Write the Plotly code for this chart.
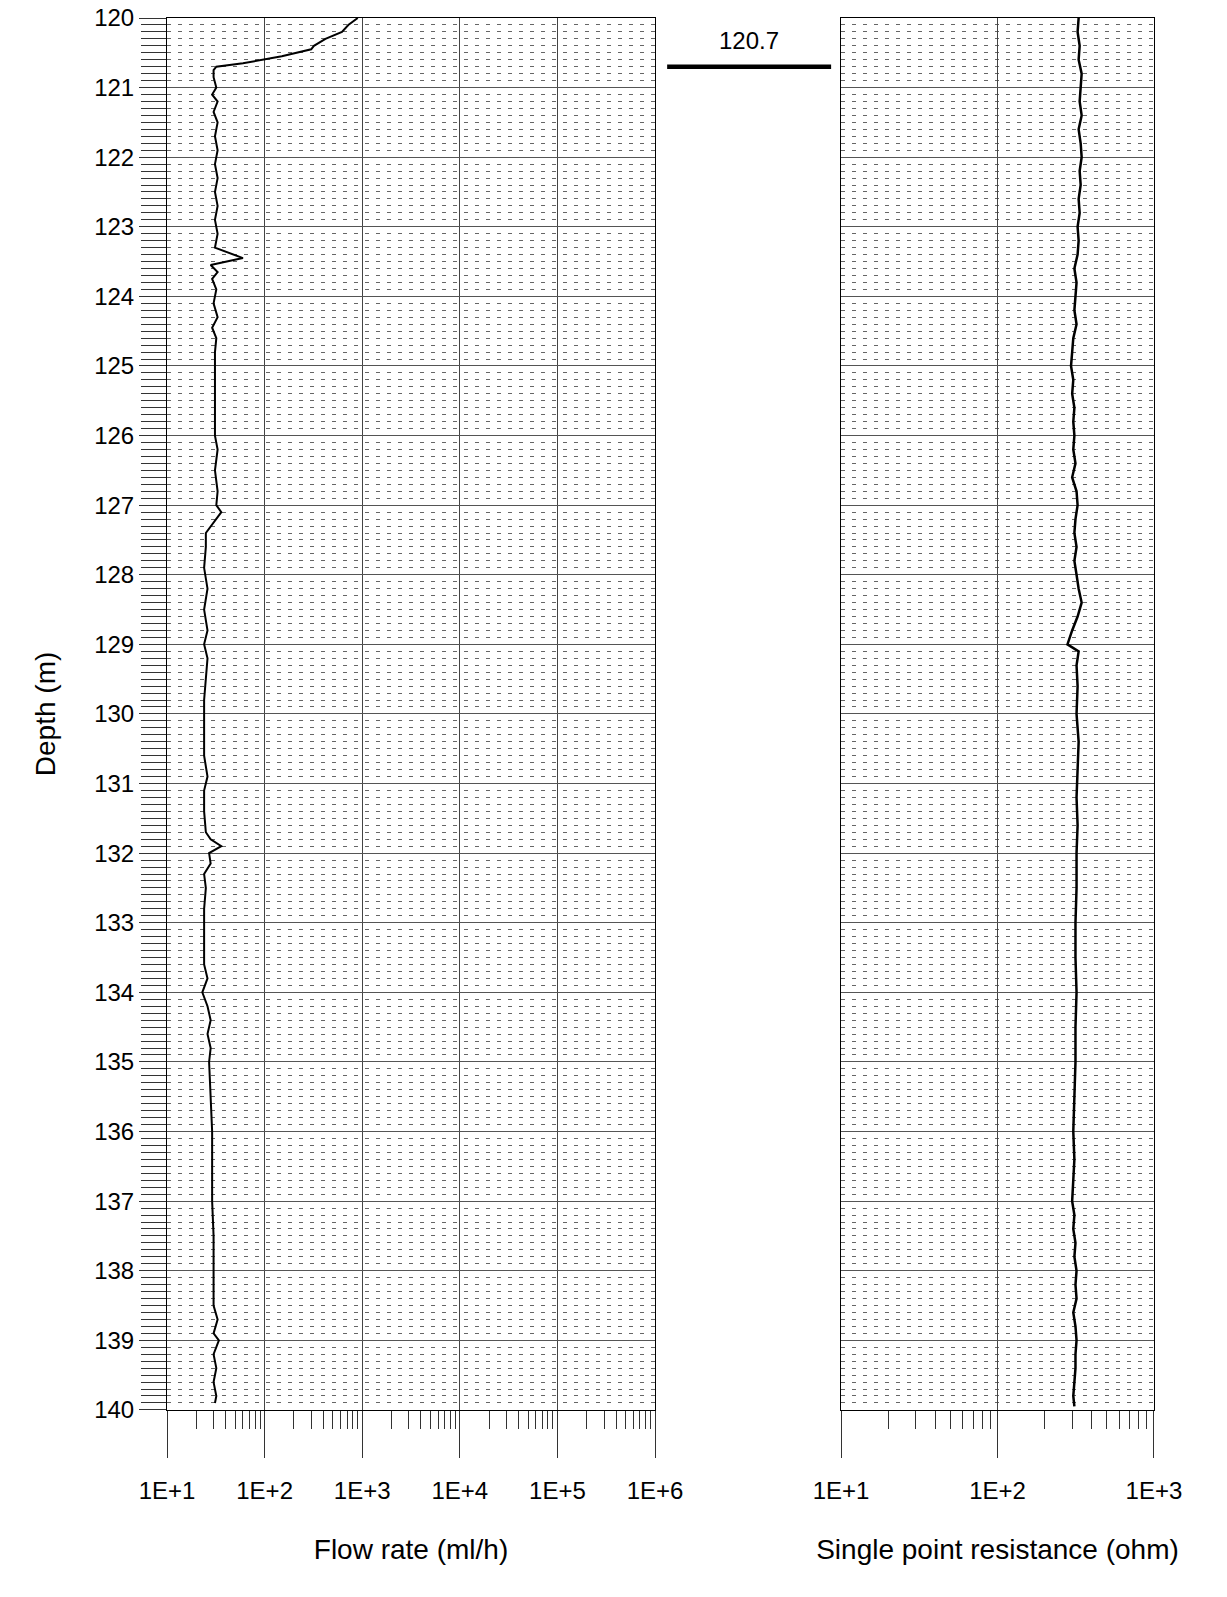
import plotly.graph_objects as go

# flow rate log (ml/h) vs depth (m)
flow_depth = [120.0, 120.1, 120.2, 120.3, 120.4, 120.45, 120.55, 120.65, 120.7, 120.75, 120.85, 121.0,
              121.1, 121.2, 121.35, 121.5, 121.7, 121.9, 122.1, 122.3, 122.5, 122.7, 122.9, 123.1,
              123.3, 123.45, 123.55, 123.65, 123.75, 123.9, 124.1, 124.3, 124.45, 124.6, 124.8, 125.0,
              125.5, 126.0, 126.2, 126.5, 126.8, 127.0, 127.1, 127.25, 127.4, 127.6, 127.9, 128.2,
              128.5, 128.8, 129.0, 129.2, 129.5, 129.8, 130.2, 130.6, 130.9, 131.1, 131.4, 131.7,
              131.8, 131.9, 132.0, 132.15, 132.3, 132.5, 132.8, 133.2, 133.6, 133.8, 134.0, 134.2,
              134.4, 134.6, 134.8, 135.0, 135.5, 136.0, 136.5, 137.0, 137.5, 138.0, 138.5, 138.7,
              138.9, 139.0, 139.2, 139.4, 139.6, 139.8, 139.9]
flow_rate = [900, 720, 620, 420, 320, 300, 150, 60, 32, 30, 30, 32,
             29, 33, 30, 33, 31, 33, 31, 33, 31, 33, 31, 33,
             31, 60, 28, 33, 29, 32, 30, 33, 29, 32, 31, 31,
             31, 31, 33, 31, 33, 32, 36, 30, 25, 25, 24, 26,
             24, 26, 24, 26, 25, 24, 24, 24, 26, 24, 24, 25,
             28, 36, 27, 28, 24, 25, 24, 24, 24, 26, 23, 26,
             28, 26, 28, 27, 28, 29, 29, 29, 30, 30, 30, 33,
             30, 34, 30, 32, 30, 32, 31]

# single point resistance (ohm) vs depth (m)
res_depth = [120.0, 120.2, 120.4, 120.6, 120.8, 121.0, 121.2, 121.4, 121.6, 121.8, 122.0, 122.2,
             122.4, 122.6, 122.8, 123.0, 123.2, 123.4, 123.6, 123.8, 124.0, 124.2, 124.4, 124.6,
             124.8, 125.0, 125.2, 125.4, 125.6, 125.8, 126.0, 126.2, 126.4, 126.6, 126.8, 127.0,
             127.2, 127.4, 127.6, 127.8, 128.0, 128.2, 128.4, 128.6, 128.8, 128.9, 129.0, 129.1,
             129.3, 129.6, 130.0, 130.4, 130.8, 131.2, 131.6, 132.0, 132.5, 133.0, 133.5, 134.0,
             134.5, 135.0, 135.5, 136.0, 136.4, 136.8, 137.0, 137.2, 137.4, 137.6, 137.8, 138.0,
             138.2, 138.4, 138.6, 138.8, 139.0, 139.2, 139.4, 139.6, 139.8, 139.95]
resistance = [330, 325, 335, 330, 345, 340, 335, 345, 330, 340, 345, 335,
              340, 330, 335, 325, 330, 325, 310, 320, 315, 310, 320, 305,
              300, 295, 305, 300, 310, 305, 310, 305, 315, 300, 320, 325,
              315, 310, 320, 310, 320, 330, 345, 325, 300, 290, 280, 330,
              320, 325, 320, 330, 325, 320, 325, 320, 320, 315, 315, 320,
              315, 315, 310, 305, 310, 305, 300, 310, 305, 315, 310, 320,
              315, 320, 305, 315, 320, 315, 315, 310, 305, 310]

flow_ticks = [10, 100, 1000, 10000, 100000, 1000000]
flow_labels = ["1E+1", "1E+2", "1E+3", "1E+4", "1E+5", "1E+6"]
res_ticks = [10, 100, 1000]
res_labels = ["1E+1", "1E+2", "1E+3"]
depth_ticks = list(range(120, 141))
marker_depth = 120.7

font = dict(family="Liberation Sans, Arial", size=24, color="black")
title_font = dict(family="Liberation Sans, Arial", size=28, color="black")

fig = go.Figure()
fig.add_trace(go.Scatter(x=flow_rate, y=flow_depth, mode="lines",
                         line=dict(color="black", width=2), xaxis="x", yaxis="y"))
fig.add_trace(go.Scatter(x=resistance, y=res_depth, mode="lines",
                         line=dict(color="black", width=2.5), xaxis="x2", yaxis="y2"))

ydom = [0.114, 1.0]
yaxis_common = dict(range=[140, 120], autorange=False, showline=True, linecolor="black", linewidth=1,
                    mirror=True, showgrid=True, gridcolor="#555", gridwidth=1, zeroline=False,
                    automargin=False, ticklabeloverflow="allow",
                    minor=dict(dtick=0.1, showgrid=True, gridcolor="#666", griddash="4px,7px",
                               gridwidth=1))
xaxis_common = dict(type="log", showline=True, linecolor="black", mirror=True, showgrid=True,
                    gridcolor="#444", zeroline=False, ticks="outside", ticklen=47, tickcolor="#333",
                    ticklabelstandoff=12, automargin=False, ticklabeloverflow="allow",
                    minor=dict(ticks="outside", ticklen=18, tickcolor="#333", showgrid=False,
                               dtick="D1"),
                    title=dict(font=title_font, standoff=36), tickfont=font)

fig.update_layout(
    width=1211, height=1581, margin=dict(l=0, r=0, t=10, b=0),
    plot_bgcolor="white", paper_bgcolor="white", showlegend=False,
    xaxis=dict(xaxis_common, domain=[0.1313, 0.5343], range=[1, 6],
               tickvals=flow_ticks, ticktext=flow_labels, title_text="Flow rate (ml/h)"),
    yaxis=dict(yaxis_common, domain=ydom, anchor="x", tickvals=depth_ticks,
               ticks="outside", ticklen=27, tickcolor="#333", tickfont=font,
               title=dict(text="Depth (m)", font=title_font, standoff=30),
               minor=dict(yaxis_common["minor"], ticks="outside", ticklen=25, tickcolor="#333")),
    xaxis2=dict(xaxis_common, domain=[0.6879, 0.9463], range=[1, 3], anchor="y2",
                tickvals=res_ticks, ticktext=res_labels, title_text="Single point resistance (ohm)"),
    yaxis2=dict(yaxis_common, domain=ydom, anchor="x2", tickvals=depth_ticks,
                showticklabels=False),
)

# depth marker between the two tracks
fig.add_shape(type="line", xref="paper", yref="y", x0=0.5443, x1=0.6797,
              y0=marker_depth, y1=marker_depth, line=dict(color="black", width=4.5))
fig.add_annotation(xref="paper", yref="y", x=0.612, y=marker_depth, yshift=26,
                   text=str(marker_depth), showarrow=False, font=font)

fig.write_html("out.html")
